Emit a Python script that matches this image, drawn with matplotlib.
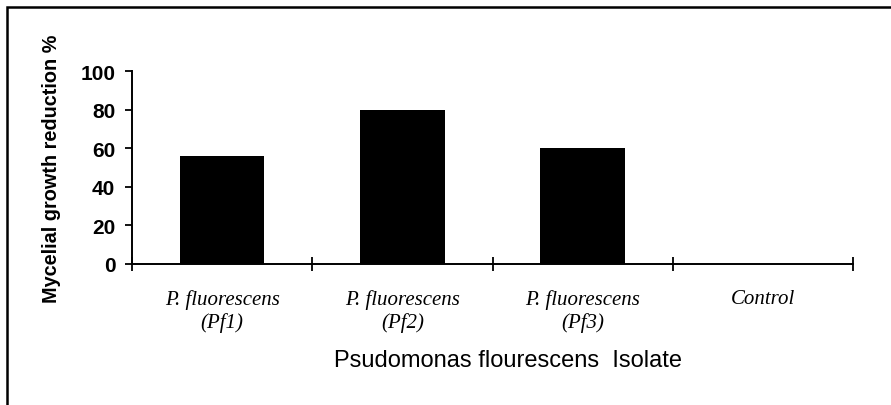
import matplotlib
matplotlib.use("Agg")
import matplotlib.pyplot as plt
from matplotlib.patches import Rectangle

# data
isolates = ["P. fluorescens\n(Pf1)", "P. fluorescens\n(Pf2)", "P. fluorescens\n(Pf3)", "Control"]
reduction = [56, 80, 60, 0]
yticks = [0, 20, 40, 60, 80, 100]

fig = plt.figure(figsize=(8.91, 4.06), dpi=100)
ax = fig.add_axes([132 / 891, 141 / 406, 721 / 891, 193 / 406])

x = list(range(1, len(isolates) + 1))
ax.bar(x, reduction, width=0.47, color="black")

ax.set_xlim(0.5, len(isolates) + 0.5)
ax.set_ylim(0, 100)
ax.set_yticks(yticks)
ax.set_yticklabels([str(v) for v in yticks], fontfamily="Liberation Sans",
                   fontweight="bold", fontsize=15)
ax.tick_params(axis="y", direction="out", length=5, width=1.3, pad=7)

# boundaries between categories carry the tick marks
ax.set_xticks([i + 0.5 for i in range(len(isolates) + 1)])
ax.set_xticklabels([])
ax.tick_params(axis="x", which="major", direction="inout", length=10, width=1.3)
ax.set_xticks(x, minor=True)
ax.set_xticklabels(isolates, minor=True, fontfamily="Liberation Serif",
                   fontstyle="italic", fontsize=15, linespacing=1.22)
ax.tick_params(axis="x", which="minor", length=0, pad=18)

for s in ["top", "right"]:
    ax.spines[s].set_visible(False)
for s in ["left", "bottom"]:
    ax.spines[s].set_linewidth(1.4)

ax.set_ylabel("Mycelial growth reduction %", fontfamily="Liberation Sans",
              fontweight="bold", fontsize=14.3, labelpad=14)
fig.text(508 / 891, 1 - 361 / 406, "Psudomonas flourescens  Isolate",
         ha="center", va="center", fontfamily="Liberation Sans", fontsize=17)

# outer frame, only left and top edges visible
fig.patches.append(Rectangle((7 / 891, -0.1), 1.2, 1.1 - 8 / 406,
                             transform=fig.transFigure, fill=False,
                             edgecolor="black", linewidth=1.8))

fig.savefig("out.png", dpi=100)
